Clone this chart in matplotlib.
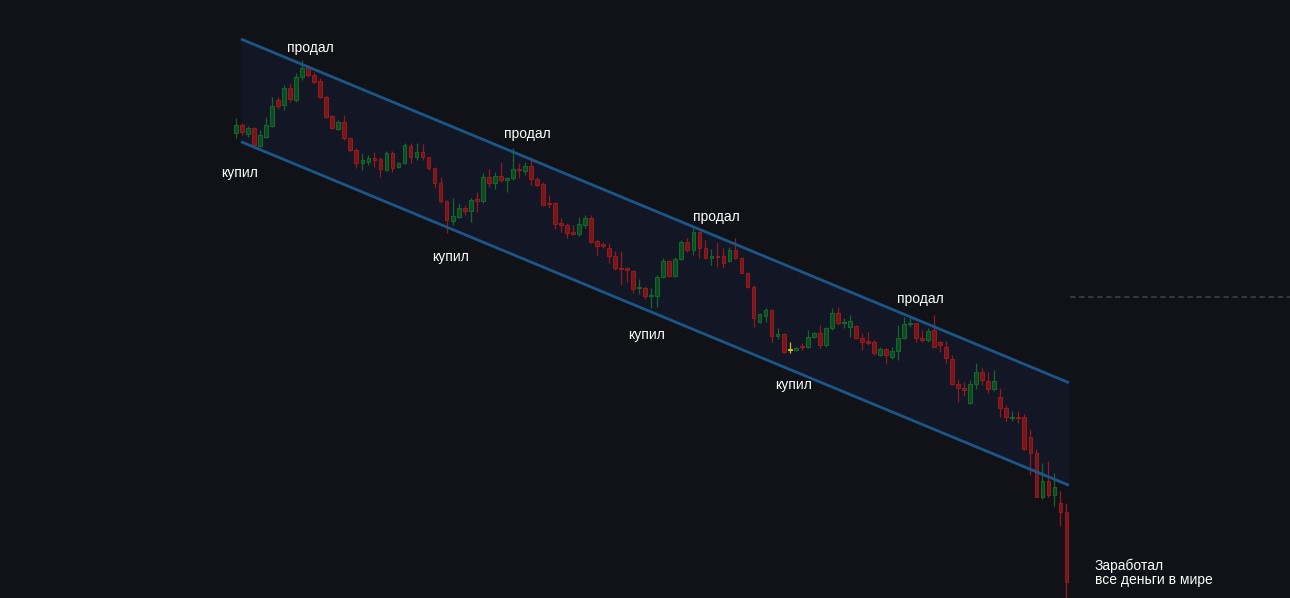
import numpy as np
import matplotlib
matplotlib.use("Agg")
import matplotlib.pyplot as plt

# ---- data (price units, arbitrary) ----
opens = [467, 475, 465.7, 471.7, 454.3, 463.3, 474.3, 500, 495, 511.7,
         500, 523.3, 533.3, 525, 519, 503.3, 484, 471, 478.3, 461.7,
         450, 436.7, 438.3, 441.7, 440.7, 430, 446.7, 433.3, 436.7, 454,
         442.7, 447.7, 442.7, 431.7, 416.7, 399.3, 379.3, 382.7, 391.7, 389.3,
         400.7, 399.3, 423.3, 416.7, 424, 420, 421.7, 430.7, 429.3, 434,
         420.7, 415.7, 397.3, 396.7, 376.7, 375, 367.7, 366, 375, 382.3,
         359, 355.7, 352.3, 344.3, 332.3, 331.7, 329, 311.7, 312.3, 304,
         304, 322.7, 339, 324, 341, 357.7, 350, 367.7, 351.7, 342.5,
         344, 344, 339.3, 350, 341.7, 327.3, 313.3, 278.3, 284, 290,
         264.5, 265.7, 250, 250, 254, 252.7, 263.3, 266.7, 255, 271.7,
         286.7, 276.7, 273.3, 274, 261.7, 259, 258.3, 245, 250.7, 243.3,
         249.3, 261.7, 276, 276.7, 261.7, 260, 270, 257.7, 252.7, 240.7,
         215.8, 212.3, 197.3, 215.7, 228.3, 219.3, 210.7, 202.7, 191.7, 181.7,
         182.7, 182.7, 163.3, 146.7, 102.7, 119.3, 105, 96.7, 88.3]
closes = [475, 467.7, 472.3, 455, 465, 475, 494.3, 494.3, 511.7, 500.7,
          523.3, 531.7, 525, 518.3, 503.3, 483.3, 472.3, 478.3, 461.7, 450,
          436.7, 440, 441.7, 440, 430.7, 446.7, 432.3, 437.3, 455, 442.7,
          447.7, 442.7, 431.7, 416.7, 399.3, 380, 384, 391.7, 389.3, 400,
          399.3, 423.3, 416.7, 424, 420, 421.7, 430.7, 430, 434, 420.7,
          415, 395, 396, 375.7, 375, 367.5, 366, 375.7, 382.3, 358.3,
          354.5, 354.3, 344, 332.3, 331, 329.7, 311.3, 312.5, 304, 305,
          322.7, 339, 324, 341.5, 357.7, 350, 367.7, 351.7, 341.7, 344,
          343.3, 336.7, 350, 341.7, 327.3, 312.7, 281.7, 285.7, 290, 264.5,
          265.5, 247.7, 250.5, 252.3, 253, 263.3, 266.7, 255, 271.7, 286.7,
          276.7, 278.3, 279.3, 261.7, 258.3, 257.3, 247.3, 250.7, 245, 249.3,
          261.7, 276, 276.7, 261.7, 260, 269.3, 253.5, 255, 241.7, 216,
          211.7, 210, 215.7, 228.3, 220, 210.7, 219.3, 191.7, 182.7, 183,
          181.7, 150.7, 146.7, 102.7, 119.3, 105, 113.3, 88.3, 18.3]
highs = [482, 477.3, 474.3, 473.3, 470, 483.3, 503.3, 503.3, 515, 516.7,
         526.7, 540, 535, 528.3, 521.7, 505, 485, 480, 485, 463.3,
         451.7, 446.7, 445, 448.3, 443.3, 449.3, 449.3, 438.3, 456.7, 457.3,
         456.7, 456, 443.3, 433.3, 422.7, 400, 401.7, 396.7, 395, 401.7,
         408.3, 426.7, 430.7, 428.3, 438.3, 423.3, 451.7, 436.7, 438.3, 443.3,
         423.3, 418.3, 405, 398, 381.7, 376.7, 374.7, 383, 385, 385,
         361, 358.3, 356.7, 349, 349, 333.3, 330, 321.3, 314.5, 311.7,
         325, 341.7, 340, 343.3, 360, 361.7, 371.7, 369.5, 360, 350.7,
         358, 352, 352.7, 361.7, 342.7, 328.3, 315, 286.7, 291.7, 290.7,
         272.5, 266.7, 258.3, 253.3, 257.3, 270, 268.3, 275, 273.3, 291.7,
         292.7, 281.7, 285, 275, 267.3, 268.3, 260, 253.3, 251.7, 253.3,
         275, 282.7, 281.7, 277.3, 270, 271.7, 285.5, 259.3, 259.5, 245,
         221, 218.3, 220, 236.7, 231.7, 228.3, 230, 211.7, 195, 189.3,
         189.3, 186, 170.7, 150.7, 137.3, 139.3, 127.3, 109, 97.3]
lows = [462, 465, 463.3, 451.7, 453.3, 462.3, 473.3, 491, 490, 498.3,
        498.3, 520, 523.3, 516.7, 501.7, 481.7, 471, 470, 460, 448.3,
        431.7, 430, 435, 433.3, 423.3, 429.3, 428.3, 431.7, 436, 437.3,
        440, 440, 430, 411.7, 396.7, 367.3, 375, 381.7, 385, 378.3,
        388.3, 397.3, 413.3, 410.7, 418.3, 408.3, 420, 421.7, 425, 415,
        413.3, 394, 391.7, 370.7, 368, 361.7, 365, 363.7, 372.5, 356.7,
        345, 351.7, 336.7, 330.5, 315.5, 318.3, 306.7, 306.3, 300.8, 292.5,
        292.7, 321.7, 322.7, 323.3, 340, 348.3, 345, 342, 340.7, 335,
        333.5, 331.7, 337.7, 340.7, 326.7, 311.7, 273.3, 277.3, 278, 258,
        261, 246.7, 246.7, 249.3, 250, 251.7, 261.7, 251.7, 253.3, 270,
        275, 271.7, 263.3, 260.7, 250, 255, 245, 244, 236, 240.7,
        240, 260.7, 273.3, 258.3, 258.3, 258.3, 253, 248.3, 237.5, 215,
        198, 204, 196, 210.7, 215, 207.3, 209.3, 183.3, 179.3, 179.3,
        177.3, 150, 125, 102.7, 100.7, 103.3, 94, 74, 0]
highlight_index = 92  # yellow crosshair candle

channel_x = [0.83, 138.4]
channel_upper = [561.0, 217.3]
channel_lower = [458.3, 114.7]

sell_labels = [(12.3, 552), (48.4, 466), (79.8, 383), (113.8, 301)]
buy_labels = [(0.66, 427), (35.6, 343), (68.3, 265), (92.6, 215)]
final_label = "Заработал\nвсе деньги в мире"
final_pos = (142.7, 27)
level_price = 303

# ---- styling ----
BG = "#111217"
FILL = "#131624"
CHAN = "#1b5689"
UP_FACE, UP_EDGE = "#0e4a21", "#15662d"
DN_FACE, DN_EDGE = "#74161a", "#921b1f"

W, H = 1290, 598
fig = plt.figure(figsize=(W / 100, H / 100), dpi=100)
fig.patch.set_facecolor(BG)
ax = fig.add_axes([0, 0, 1, 1])
ax.set_facecolor(BG)
ax.axis("off")

step = 6.018
x0 = 236
ax.set_xlim(-x0 / step, (W - x0) / step)
ax.set_ylim(600 - H, 600)

o = np.array(opens, float)
c = np.array(closes, float)
h = np.array(highs, float)
l = np.array(lows, float)
idx = np.arange(len(o))

# channel fill and lines
cx = np.array(channel_x)
ax.fill_between(cx, channel_lower, channel_upper, color=FILL, zorder=1, lw=0)
ax.plot(cx, channel_upper, color=CHAN, lw=2.0, zorder=4, solid_capstyle="butt")
ax.plot(cx, channel_lower, color=CHAN, lw=2.0, zorder=4, solid_capstyle="butt")

up = c >= o
wick_col = np.where(up, UP_EDGE, DN_EDGE).astype(object)
face = np.where(up, UP_FACE, DN_FACE).astype(object)
edge = np.where(up, UP_EDGE, DN_EDGE).astype(object)
wick_col[highlight_index] = "#c8c020"
face[highlight_index] = "#c8c020"
edge[highlight_index] = "#c8c020"

ax.vlines(idx, l, h, colors=list(wick_col), lw=0.9, zorder=2)
bottom = np.minimum(o, c)
height = np.maximum(np.abs(c - o), 1.2)
ax.bar(idx, height, bottom=bottom, width=0.62, color=list(face),
       edgecolor=list(edge), linewidth=0.8, zorder=3)

# dashed level on the right
ax.plot([channel_x[1] + 0.2, (W - x0) / step], [level_price, level_price],
        color="#3a3c42", lw=1.3, ls=(0, (3, 2)), zorder=1)

font = dict(family=["Liberation Sans", "DejaVu Sans"], color="white", fontsize=10)
for x, y in sell_labels:
    ax.text(x, y, "продал", ha="center", va="center", zorder=5, **font)
for x, y in buy_labels:
    ax.text(x, y, "купил", ha="center", va="center", zorder=5, **font)
ax.text(final_pos[0], final_pos[1], final_label, ha="left", va="center",
        linespacing=1.05, zorder=5, **font)

fig.savefig("out.png", dpi=100, facecolor=BG)
